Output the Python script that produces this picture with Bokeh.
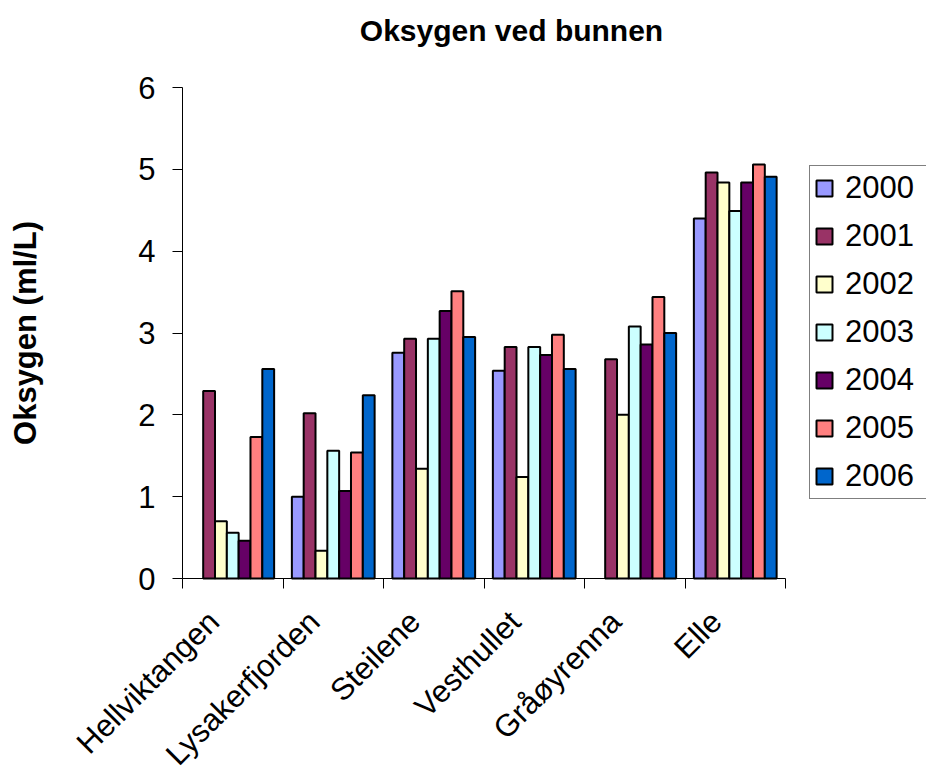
import math
from bokeh.plotting import figure
from bokeh.models import Range1d, FixedTicker, Legend, LegendItem, Label
from bokeh.embed import file_html
from bokeh.resources import INLINE

categories = ["Hellviktangen", "Lysakerfjorden", "Steilene", "Vesthullet", "Gråøyrenna", "Elle"]
years = ["2000", "2001", "2002", "2003", "2004", "2005", "2006"]
nan = float("nan")
v2000 = [nan, 1.00, 2.76, 2.54, nan, 4.40]
v2001 = [2.29, 2.02, 2.93, 2.83, 2.68, 4.96]
v2002 = [0.70, 0.34, 1.34, 1.24, 2.00, 4.84]
v2003 = [0.56, 1.56, 2.93, 2.83, 3.08, 4.49]
v2004 = [0.46, 1.07, 3.27, 2.73, 2.86, 4.84]
v2005 = [1.73, 1.54, 3.51, 2.98, 3.44, 5.06]
v2006 = [2.56, 2.24, 2.95, 2.56, 3.00, 4.91]
series = [v2000, v2001, v2002, v2003, v2004, v2005, v2006]
colors = ["#9999FF", "#993366", "#FFFFCC", "#CCFFFF", "#660066", "#FF8080", "#0066CC"]
y_ticks = [0, 1, 2, 3, 4, 5, 6]
y_max = 6
title_text = "Oksygen ved bunnen"
y_label = "Oksygen (ml/L)"

FONT = "Liberation Sans"
FS = "31px"

# page geometry of the plot area (pixels)
W, H = 926, 772
PX_LEFT, PX_RIGHT, PX_TOP, PX_BOTTOM = 182, 785, 87, 578
LABEL_SHIFT_PX = 19  # rotated category labels end a little left of the category centre
ncat = len(categories)
ux = (PX_RIGHT - PX_LEFT) / ncat
uy = (PX_BOTTOM - PX_TOP) / y_max
# the frame fills the whole canvas; axes are pinned at 0 and bounded to the data extent
x_range = Range1d(-PX_LEFT / ux, (W - PX_LEFT) / ux)
y_range = Range1d(-(H - PX_BOTTOM) / uy, y_max + PX_TOP / uy)

p = figure(width=W, height=H, output_backend="svg", toolbar_location=None,
           x_range=x_range, y_range=y_range, min_border=0)
p.outline_line_color = None
p.xgrid.visible = False
p.ygrid.visible = False
p.background_fill_color = "white"
p.border_fill_color = "white"

n = len(series)
bw = 1.0 / (n + 1.5)
items = []
for j, (vals, col, yr) in enumerate(zip(series, colors, years)):
    xs = [i + 0.5 + (j - (n - 1) / 2) * bw for i in range(ncat)]
    r = p.vbar(x=xs, top=vals, bottom=0, width=bw, fill_color=col,
               line_color="black", line_width=2)
    items.append(LegendItem(label=yr, renderers=[r]))

# x axis: labels near centres, tick marks at category boundaries
label_pos = [i + 0.5 - LABEL_SHIFT_PX / ux for i in range(ncat)]
bounds = list(range(ncat + 1))
xa = p.xaxis[0]
xa.fixed_location = 0
xa.bounds = (0, ncat)
xa.ticker = FixedTicker(ticks=label_pos, minor_ticks=bounds)
xa.major_label_overrides = {c: name for c, name in zip(label_pos, categories)}
xa.major_tick_out = 0
xa.major_tick_in = 0
xa.minor_tick_out = 10
xa.minor_tick_in = 0
xa.major_label_orientation = math.pi / 4
xa.major_label_text_font = FONT
xa.major_label_text_font_size = FS
xa.major_label_text_color = "black"
xa.major_label_standoff = 28
xa.axis_line_color = "black"
xa.minor_tick_line_color = "black"

ya = p.yaxis[0]
ya.fixed_location = 0
ya.bounds = (0, y_max)
ya.ticker = FixedTicker(ticks=y_ticks, minor_ticks=[])
ya.major_tick_out = 10
ya.major_tick_in = 0
ya.major_label_text_font = FONT
ya.major_label_text_font_size = FS
ya.major_label_text_color = "black"
ya.major_label_standoff = 17
ya.axis_line_color = "black"
ya.major_tick_line_color = "black"
ya.axis_label = y_label
ya.axis_label_text_font = FONT
ya.axis_label_text_font_size = FS
ya.axis_label_text_font_style = "bold"
ya.axis_label_text_color = "black"
ya.axis_label_standoff = 92

title = Label(x=511, y=H - 30, x_units="screen", y_units="screen", text=title_text,
              text_font=FONT, text_font_size="30px", text_font_style="bold",
              text_color="black", text_align="center", text_baseline="alphabetic")
p.add_layout(title)

legend = Legend(items=items, location=(809, H - 499), orientation="vertical",
                label_text_font=FONT, label_text_font_size=FS, label_text_color="black",
                glyph_width=20, glyph_height=20, label_standoff=11, label_width=78,
                spacing=12, padding=4, margin=0,
                border_line_color="black", border_line_width=1,
                background_fill_color="white", background_fill_alpha=1.0)
p.add_layout(legend, "center")

open("out.html", "w").write(file_html(p, INLINE))
